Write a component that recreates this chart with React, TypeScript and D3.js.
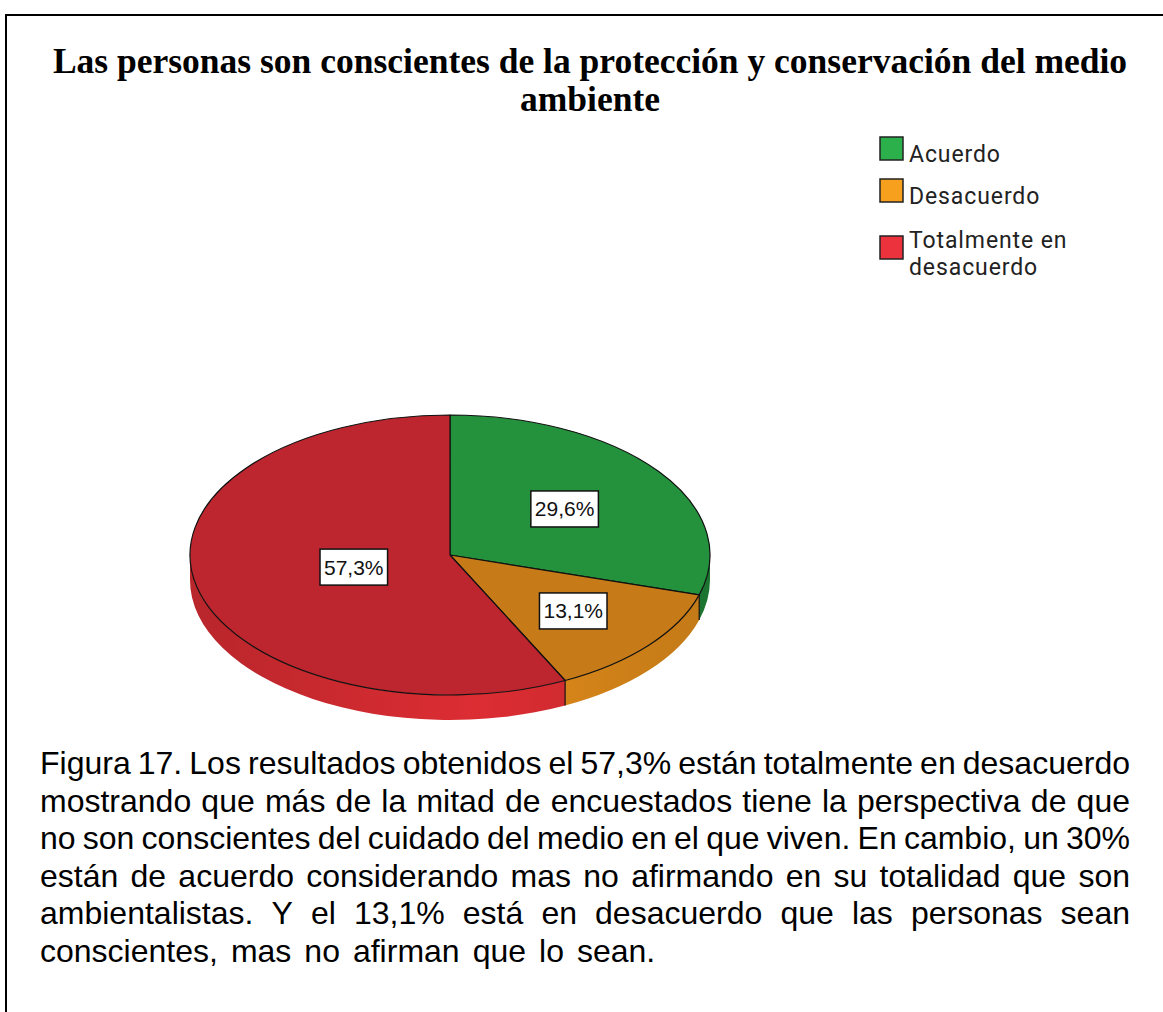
// pie chart (3D look) for the "medio ambiente" survey figure
import * as d3 from 'd3';
import React, { useEffect, useRef } from 'react';

const categories = ['Acuerdo', 'Desacuerdo', 'Totalmente en desacuerdo'];
const percents = [29.6, 13.1, 57.3];
const valueLabels = ['29,6%', '13,1%', '57,3%'];
const legendLines = [['Acuerdo'], ['Desacuerdo'], ['Totalmente en', 'desacuerdo']];

const titleLines = [
  'Las personas son conscientes de la protección y conservación del medio',
  'ambiente'
];

const captionLines = [
  'Figura 17.  Los resultados obtenidos el 57,3% están totalmente en desacuerdo',
  'mostrando que más de la mitad de encuestados tiene la perspectiva de que',
  'no son conscientes del cuidado del medio en el que viven. En cambio, un 30%',
  'están de acuerdo considerando mas no afirmando en su totalidad que son',
  'ambientalistas. Y el 13,1% está en desacuerdo que las personas sean',
  'conscientes, mas no afirman que lo sean.'
];

const topColors = ['#24923d', '#c77a18', '#bd262e'];
const sideColors = ['#1f8636', '#e08b1a', '#dc2d33'];
const legendColors = ['#2cb04b', '#f7a01e', '#ec323c'];

const App = () => {
  const svgRef = useRef<SVGSVGElement>(null);

  useEffect(() => {
    const svg = d3.select(svgRef.current);
    svg.selectAll('*').remove();

    //frame around the figure
    svg
      .append('rect')
      .attr('x', 6)
      .attr('y', 15)
      .attr('width', 1200)
      .attr('height', 1100)
      .attr('fill', 'none')
      .attr('stroke', '#000')
      .attr('stroke-width', 2);

    //title
    svg
      .append('g')
      .selectAll('text')
      .data(titleLines)
      .enter()
      .append('text')
      .attr('x', 590)
      .attr('y', (d, i) => 73 + i * 38)
      .attr('text-anchor', 'middle')
      .attr('font-family', '"Liberation Serif", "Times New Roman", serif')
      .attr('font-weight', 'bold')
      .attr('font-size', 35.5)
      .attr('fill', '#000')
      .text((d) => d);

    //pie geometry
    const cx = 450;
    const cy = 555;
    const rx = 260;
    const ry = 140;
    const depth = 25;

    const pie = d3
      .pie<number>()
      .sort(null)
      .value((d) => d);
    const arcs = pie(percents);

    const px = (a: number) => cx + rx * Math.sin(a);
    const py = (a: number) => cy - ry * Math.cos(a);

    const defs = svg.append('defs');
    sideColors.forEach((c, i) => {
      const g = defs
        .append('linearGradient')
        .attr('id', `side${i}`)
        .attr('gradientUnits', 'userSpaceOnUse')
        .attr('x1', cx - rx)
        .attr('x2', cx + rx)
        .attr('y1', 0)
        .attr('y2', 0);
      g.append('stop').attr('offset', 0).attr('stop-color', d3.color(c)!.darker(0.5).toString());
      g.append('stop').attr('offset', 0.55).attr('stop-color', c);
      g.append('stop').attr('offset', 1).attr('stop-color', d3.color(c)!.darker(0.4).toString());
    });

    //side walls, only the front half of the pie is visible
    const sides = svg.append('g');
    arcs.forEach((a, i) => {
      const a0 = Math.max(a.startAngle, Math.PI / 2);
      const a1 = Math.min(a.endAngle, (3 * Math.PI) / 2);
      if (a1 <= a0) return;
      const large = a1 - a0 > Math.PI ? 1 : 0;
      const p =
        `M${px(a0)},${py(a0)}` +
        `A${rx},${ry} 0 ${large} 1 ${px(a1)},${py(a1)}` +
        `L${px(a1)},${py(a1) + depth}` +
        `A${rx},${ry} 0 ${large} 0 ${px(a0)},${py(a0) + depth}Z`;
      sides.append('path').attr('d', p).attr('fill', `url(#side${i})`);
    });

    //vertical edges where slices meet on the front wall
    arcs.forEach((a) => {
      const ang = a.endAngle;
      if (ang > Math.PI / 2 && ang < (3 * Math.PI) / 2) {
        sides
          .append('line')
          .attr('x1', px(ang))
          .attr('y1', py(ang))
          .attr('x2', px(ang))
          .attr('y2', py(ang) + depth)
          .attr('stroke', '#111')
          .attr('stroke-width', 1.2);
      }
    });

    //top face drawn with d3.arc then squashed to an ellipse
    const arc = d3
      .arc<d3.PieArcDatum<number>>()
      .innerRadius(0)
      .outerRadius(rx);

    svg
      .append('g')
      .attr('transform', `translate(${cx}, ${cy}) scale(1, ${ry / rx})`)
      .selectAll('path')
      .data(arcs)
      .enter()
      .append('path')
      .attr('d', arc)
      .attr('fill', (d, i) => topColors[i])
      .attr('stroke', '#111')
      .attr('stroke-width', 1.2)
      .attr('stroke-linejoin', 'round')
      .attr('vector-effect', 'non-scaling-stroke');

    //value labels in white boxes
    const labelRadius = [0.55, 0.62, 0.38];
    const labels = svg.append('g');
    arcs.forEach((a, i) => {
      const mid = (a.startAngle + a.endAngle) / 2;
      const lx = cx + rx * labelRadius[i] * Math.sin(mid);
      const ly = cy - ry * labelRadius[i] * Math.cos(mid);
      const t = labels
        .append('text')
        .attr('x', lx)
        .attr('y', ly + 7.5)
        .attr('text-anchor', 'middle')
        .attr('font-family', '"Liberation Sans", Arial, sans-serif')
        .attr('font-size', 21)
        .attr('fill', '#111')
        .text(valueLabels[i]);
      const w = (t.node() as SVGTextElement).getComputedTextLength();
      labels
        .insert('rect', 'text')
        .attr('x', lx - w / 2 - 4)
        .attr('y', ly - 18)
        .attr('width', w + 8)
        .attr('height', 36)
        .attr('fill', '#fff')
        .attr('stroke', '#111')
        .attr('stroke-width', 1.5);
    });

    //legend
    const legendY = [137, 179, 236];
    const legend = svg.append('g');
    categories.forEach((c, i) => {
      legend
        .append('rect')
        .attr('x', 880)
        .attr('y', legendY[i])
        .attr('width', 23)
        .attr('height', 23)
        .attr('fill', legendColors[i])
        .attr('stroke', '#222')
        .attr('stroke-width', 1.5);
      legend
        .append('text')
        .attr('font-family', 'Roboto, "DejaVu Sans", sans-serif')
        .attr('font-size', 23)
        .attr('letter-spacing', 0.9)
        .attr('fill', '#222')
        .selectAll('tspan')
        .data(legendLines[i])
        .enter()
        .append('tspan')
        .attr('x', 909)
        .attr('y', (d, j) => (i === 2 ? 248 : legendY[i] + 25) + j * 27)
        .text((d) => d);
    });

    //caption, justified line by line
    const left = 40;
    const right = 1130;
    const caption = svg
      .append('g')
      .attr('font-family', '"Liberation Sans", Arial, sans-serif')
      .attr('font-size', 32)
      .attr('fill', '#000');
    captionLines.forEach((line, i) => {
      const words = line.split(/\s+/);
      const y = 774 + i * 37.6;
      const nodes = words.map((w) =>
        caption.append('text').attr('y', y).text(w)
      );
      const widths = nodes.map((n) => (n.node() as SVGTextElement).getComputedTextLength());
      const total = d3.sum(widths);
      const last = i === captionLines.length - 1;
      const gap = last ? 13 : (right - left - total) / (words.length - 1);
      let x = left;
      nodes.forEach((n, j) => {
        n.attr('x', x);
        x += widths[j] + gap;
      });
    });
  }, []);

  return (
    <svg
      ref={svgRef}
      width={1163}
      height={1012}
      style={{ position: 'absolute', left: 0, top: 0, background: '#fff' }}
    ></svg>
  );
};

export default App;
